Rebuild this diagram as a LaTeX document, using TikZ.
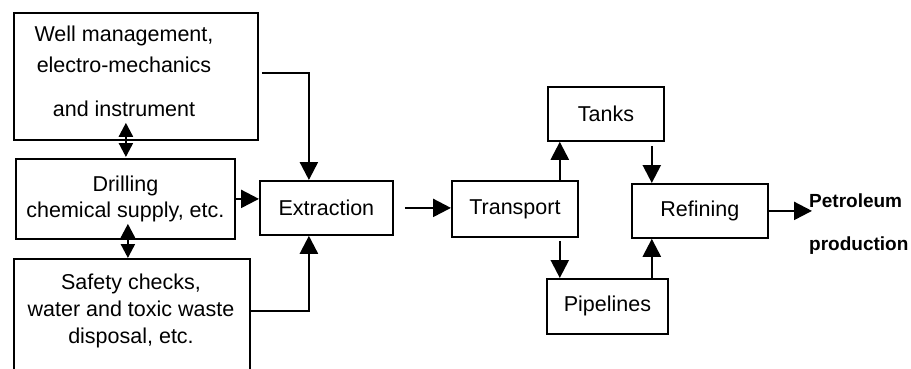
\documentclass[tikz,border=0pt]{standalone}
\usepackage{fontspec}
\setmainfont{Liberation Sans}
\usetikzlibrary{arrows.meta}
\begin{document}
\begin{tikzpicture}[x=1pt,y=-1pt,
  box/.style={draw, line width=1.8pt, rectangle, anchor=north west, inner sep=0pt,
    font=\fontsize{21.5}{26}\selectfont, align=center},
  lbl/.style={inner sep=0pt, align=center},
  arr/.style={line width=2.4pt, -{Triangle[length=18pt,width=18pt]}},
  dbl/.style={line width=2.4pt, {Triangle[length=14pt,width=14pt]}-{Triangle[length=14pt,width=14pt]}},
]
\useasboundingbox (0,0) rectangle (911,369);
\clip (0,0) rectangle (911,369);
\fill[white] (0,0) rectangle (911,369);

% left column of supporting activities
\node[box, minimum width=244pt, minimum height=127pt] (well) at (13,12) {};
\node[lbl, font=\fontsize{21.5}{31}\selectfont] (wellT) at (124,71)
  {Well management,\\electro-mechanics\\[13pt]and instrument};
\node[box, minimum width=219pt, minimum height=80pt] (drill) at (15,158)
  {Drilling\\chemical supply, etc.};
\node[box, minimum width=236pt, minimum height=125pt] (safety) at (13,258) {};
\node[lbl, font=\fontsize{21.5}{27}\selectfont] (safetyT) at (131,311)
  {Safety checks,\\water and toxic waste\\disposal, etc.};

% main chain
\node[box, minimum width=133pt, minimum height=54pt] (extr) at (259,180) {Extraction};
\node[box, minimum width=126pt, minimum height=56pt] (trans) at (451,180) {Transport};
\node[box, minimum width=116pt, minimum height=54pt] (tanks) at (547,86) {Tanks};
\node[box, minimum width=136pt, minimum height=54pt] (refin) at (631,183) {Refining};
\node[box, minimum width=121pt, minimum height=55pt] (pipes) at (546,278) {Pipelines};
\node[lbl, align=left, anchor=west, font=\bfseries\fontsize{19}{43}\selectfont] (petro) at (809,224)
  {Petroleum\\production};

% connectors
\draw[arr] ([xshift=3pt,yshift=3.5pt]well.east) -| ([xshift=-17.5pt]extr.north);
\draw[arr] (drill.east) -- (drill.east -| extr.west);
\draw[arr] (safety.east |- safetyT) -| ([xshift=-17.5pt]extr.south);
% two-way links between the stacked boxes, overlapping the box edges
\draw[dbl] ([xshift=0.5pt,yshift=1pt]drill.north) -- ([xshift=0.5pt,yshift=18pt]drill.north |- well.south);
\draw[dbl] ([xshift=2.5pt]safety.north -| drill.south) -- ([xshift=2.5pt,yshift=16pt]drill.south);
\draw[arr] ([xshift=11pt]extr.east) -- (extr.east -| trans.west);
\draw[arr] ([xshift=-19pt]trans.north east) -- ([xshift=-19pt]trans.north east |- tanks.south);
\draw[arr] ([xshift=-19pt,yshift=-3pt]trans.south east) -- ([xshift=-19pt]trans.south east |- pipes.north);
\draw[arr] ([xshift=-13pt,yshift=-4pt]tanks.south east) -- ([xshift=-13pt]tanks.south east |- refin.north);
\draw[arr] ([xshift=-17pt]pipes.north east) -- ([xshift=-17pt]pipes.north east |- refin.south);
\draw[arr] (refin.east) -- ([xshift=3pt]refin.east -| petro.west);
\end{tikzpicture}
\end{document}
